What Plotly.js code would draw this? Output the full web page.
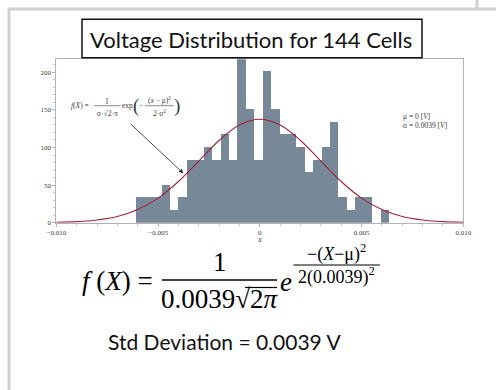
<!DOCTYPE html>
<html>
<head>
<meta charset="utf-8">
<script src="https://cdn.plot.ly/plotly-3.0.1.min.js"></script>
<style>
  html, body { margin: 0; padding: 0; background: #ffffff; }
  #chart { width: 496px; height: 390px; }
</style>
</head>
<body>
<div id="chart"></div>
<script>
// Cell voltage deviations: 30 equal-width bins, counts per bin (144 cells)
const cellCount = 144;
const binStart = -0.00607;   // V, left edge of first bin
const binWidth = 0.000414;   // V
const binCounts = [2, 2, 2, 3, 1, 2, 5, 5, 6, 5, 7, 5, 13, 9, 5,
                   12, 9, 7, 7, 6, 4, 5, 6, 8, 2, 1, 2, 2, 0, 1];

// Normal density curve, sampled along the axis
const curveX = [-0.010, -0.009, -0.008, -0.007, -0.006, -0.005, -0.004, -0.003, -0.002, -0.001, 0,
                 0.001, 0.002, 0.003, 0.004, 0.005, 0.006, 0.007, 0.008, 0.009, 0.010];
const curveY = [0.6, 1.4, 3.6, 8.2, 17.4, 32.7, 54.8, 82.0, 109.3, 129.8, 137.5,
                129.8, 109.3, 82.0, 54.8, 32.7, 17.4, 8.2, 3.6, 1.4, 0.6];

const xTickVals = [-0.010, -0.005, 0, 0.005, 0.010];
const xTickText = ['\u22120.010', '\u22120.005', '0', '0.005', '0.010'];
const yTickVals = [0, 50, 100, 150, 200];

// bars: density = count / (N * width)
const barX = binCounts.map((_, i) => binStart + (i + 0.5) * binWidth);
const barY = binCounts.map(c => c / (cellCount * binWidth));

// figure-pixel helpers (margins are zero, so paper == whole figure)
const W = 496, H = 390;
const px = v => v / W;
const py = v => 1 - v / H;

const serif = '"Liberation Serif", "Times New Roman", serif';
const sans = 'Lato, "Open Sans", sans-serif';

const traces = [
  {
    type: 'bar', x: barX, y: barY, width: binWidth,
    marker: { color: '#778899', line: { width: 0 } },
    hoverinfo: 'skip'
  },
  {
    type: 'scatter', mode: 'lines', x: curveX, y: curveY,
    line: { color: '#a0233a', width: 1.1, shape: 'spline', smoothing: 1 },
    hoverinfo: 'skip'
  }
];

function txt(x, y, text, size, opts) {
  return Object.assign({
    xref: 'paper', yref: 'paper', x: px(x), y: py(y), text: text,
    showarrow: false, xanchor: 'center', yanchor: 'middle',
    font: { family: serif, size: size, color: '#000' }
  }, opts || {});
}
function hline(x0, x1, y, w, c) {
  return { type: 'line', xref: 'paper', yref: 'paper', x0: px(x0), x1: px(x1), y0: py(y), y1: py(y),
           line: { color: c || '#000', width: w } };
}
function vline(x, y0, y1, w, c) {
  return { type: 'line', xref: 'paper', yref: 'paper', x0: px(x), x1: px(x), y0: py(y0), y1: py(y1),
           line: { color: c || '#000', width: w } };
}

const small = 7.5;
const gray = '#3a3a3a';
const smallFont = { family: serif, size: small, color: gray };
const annotations = [
  // heading
  txt(251, 40, 'Voltage Distribution for 144 Cells', 22, { font: { family: sans, size: 22, color: '#111' } }),

  // small formula inside the plot
  txt(80, 106, '<i>f</i>(<i>X</i>) =', small, { font: smallFont }),
  txt(107, 101.5, '1', small, { font: smallFont }),
  txt(107, 113, '\u03c3\u00b7\u221a2\u00b7\u03c0', small, { font: smallFont }),
  txt(127, 106, 'exp', small, { font: smallFont }),
  txt(136, 106, '(', 19, { font: { family: serif, size: 19, color: gray } }),
  txt(141, 106, '\u2212', small, { font: smallFont }),
  txt(159.5, 100, '(<i>x</i> \u2212 \u03bc)<sup>2</sup>', small, { font: smallFont }),
  txt(159.5, 113, '2\u00b7\u03c3<sup>2</sup>', small, { font: smallFont }),
  txt(177, 106, ')', 19, { font: { family: serif, size: 19, color: gray } }),

  // arrow from the formula to the curve
  { xref: 'paper', yref: 'paper', axref: 'pixel', ayref: 'pixel',
    x: px(183.3), y: py(173.3), ax: -54, ay: -50.6, text: '',
    showarrow: true, arrowhead: 2, arrowsize: 1.1, arrowwidth: 0.8, arrowcolor: '#222' },

  // parameters
  txt(401, 116, '\u03bc = 0 [<i>V</i>]', small, { xanchor: 'left', font: smallFont }),
  txt(401, 125.3, '\u03c3 = 0.0039 [<i>V</i>]', small, { xanchor: 'left', font: smallFont }),

  // x axis name
  txt(259.7, 239.5, '<i>X</i>', 6.5, { font: { family: serif, size: 6.5, color: gray } }),

  // large formula below the chart
  txt(117, 281, '<i>f</i> (<i>X</i>) =', 27),
  txt(219.5, 262, '1', 27),
  txt(219.5, 298.5, '0.0039\u221a2<i>\u03c0</i>', 27),
  txt(285.5, 281.5, '<i>e</i>', 27),
  txt(336.7, 253, '\u2212(<i>X</i>\u2212\u03bc)<sup>2</sup>', 18),
  txt(336.7, 276, '2(0.0039)<sup>2</sup>', 18),

  // standard deviation line
  txt(224, 341, 'Std Deviation = 0.0039 V', 21, { font: { family: sans, size: 21, color: '#111' } })
];

const shapes = [
  // page frame
  hline(8, 496, 9, 3, '#cfcfcf'),
  vline(9, 8, 390, 3, '#cfcfcf'),
  vline(477, 0, 8, 3, '#cfcfcf'),
  // heading box
  { type: 'rect', xref: 'paper', yref: 'paper', x0: px(82), x1: px(422), y0: py(19.3), y1: py(57.7),
    line: { color: '#111', width: 1.5 }, fillcolor: 'rgba(0,0,0,0)' },
  // small formula bars
  hline(94, 120.5, 105.7, 0.6, gray),
  hline(145, 174, 105.7, 0.6, gray),
  // large formula bars
  hline(162, 277, 280, 1.5),
  hline(245, 277, 287.5, 1.2),
  hline(293.3, 380, 265, 1.2)
];

const layout = {
  width: W, height: H,
  margin: { l: 0, r: 0, t: 0, b: 0 },
  paper_bgcolor: '#ffffff', plot_bgcolor: '#ffffff',
  showlegend: false, bargap: 0,
  xaxis: {
    domain: [56.3 / W, 463.3 / W], range: [-0.010, 0.010],
    showline: true, mirror: true, linecolor: '#b4b4b4', linewidth: 1,
    showgrid: false, zeroline: false,
    ticks: 'outside', ticklen: 3, tickcolor: '#b4b4b4',
    tickvals: xTickVals, ticktext: xTickText,
    tickfont: { family: serif, size: 7, color: gray },
    minor: { dtick: 0.001, ticks: 'outside', ticklen: 2, tickcolor: '#c8c8c8' },
    fixedrange: true
  },
  yaxis: {
    domain: [1 - 222.7 / H, 1 - 59.3 / H], range: [0, 217.3],
    showline: true, mirror: true, linecolor: '#b4b4b4', linewidth: 1,
    showgrid: false, zeroline: false,
    ticks: 'outside', ticklen: 3, tickcolor: '#b4b4b4',
    tickvals: yTickVals,
    tickfont: { family: serif, size: 7, color: gray },
    minor: { dtick: 10, ticks: 'outside', ticklen: 2, tickcolor: '#c8c8c8' },
    fixedrange: true
  },
  annotations: annotations,
  shapes: shapes
};

Plotly.newPlot('chart', traces, layout, { displayModeBar: false, staticPlot: true });
</script>
</body>
</html>
